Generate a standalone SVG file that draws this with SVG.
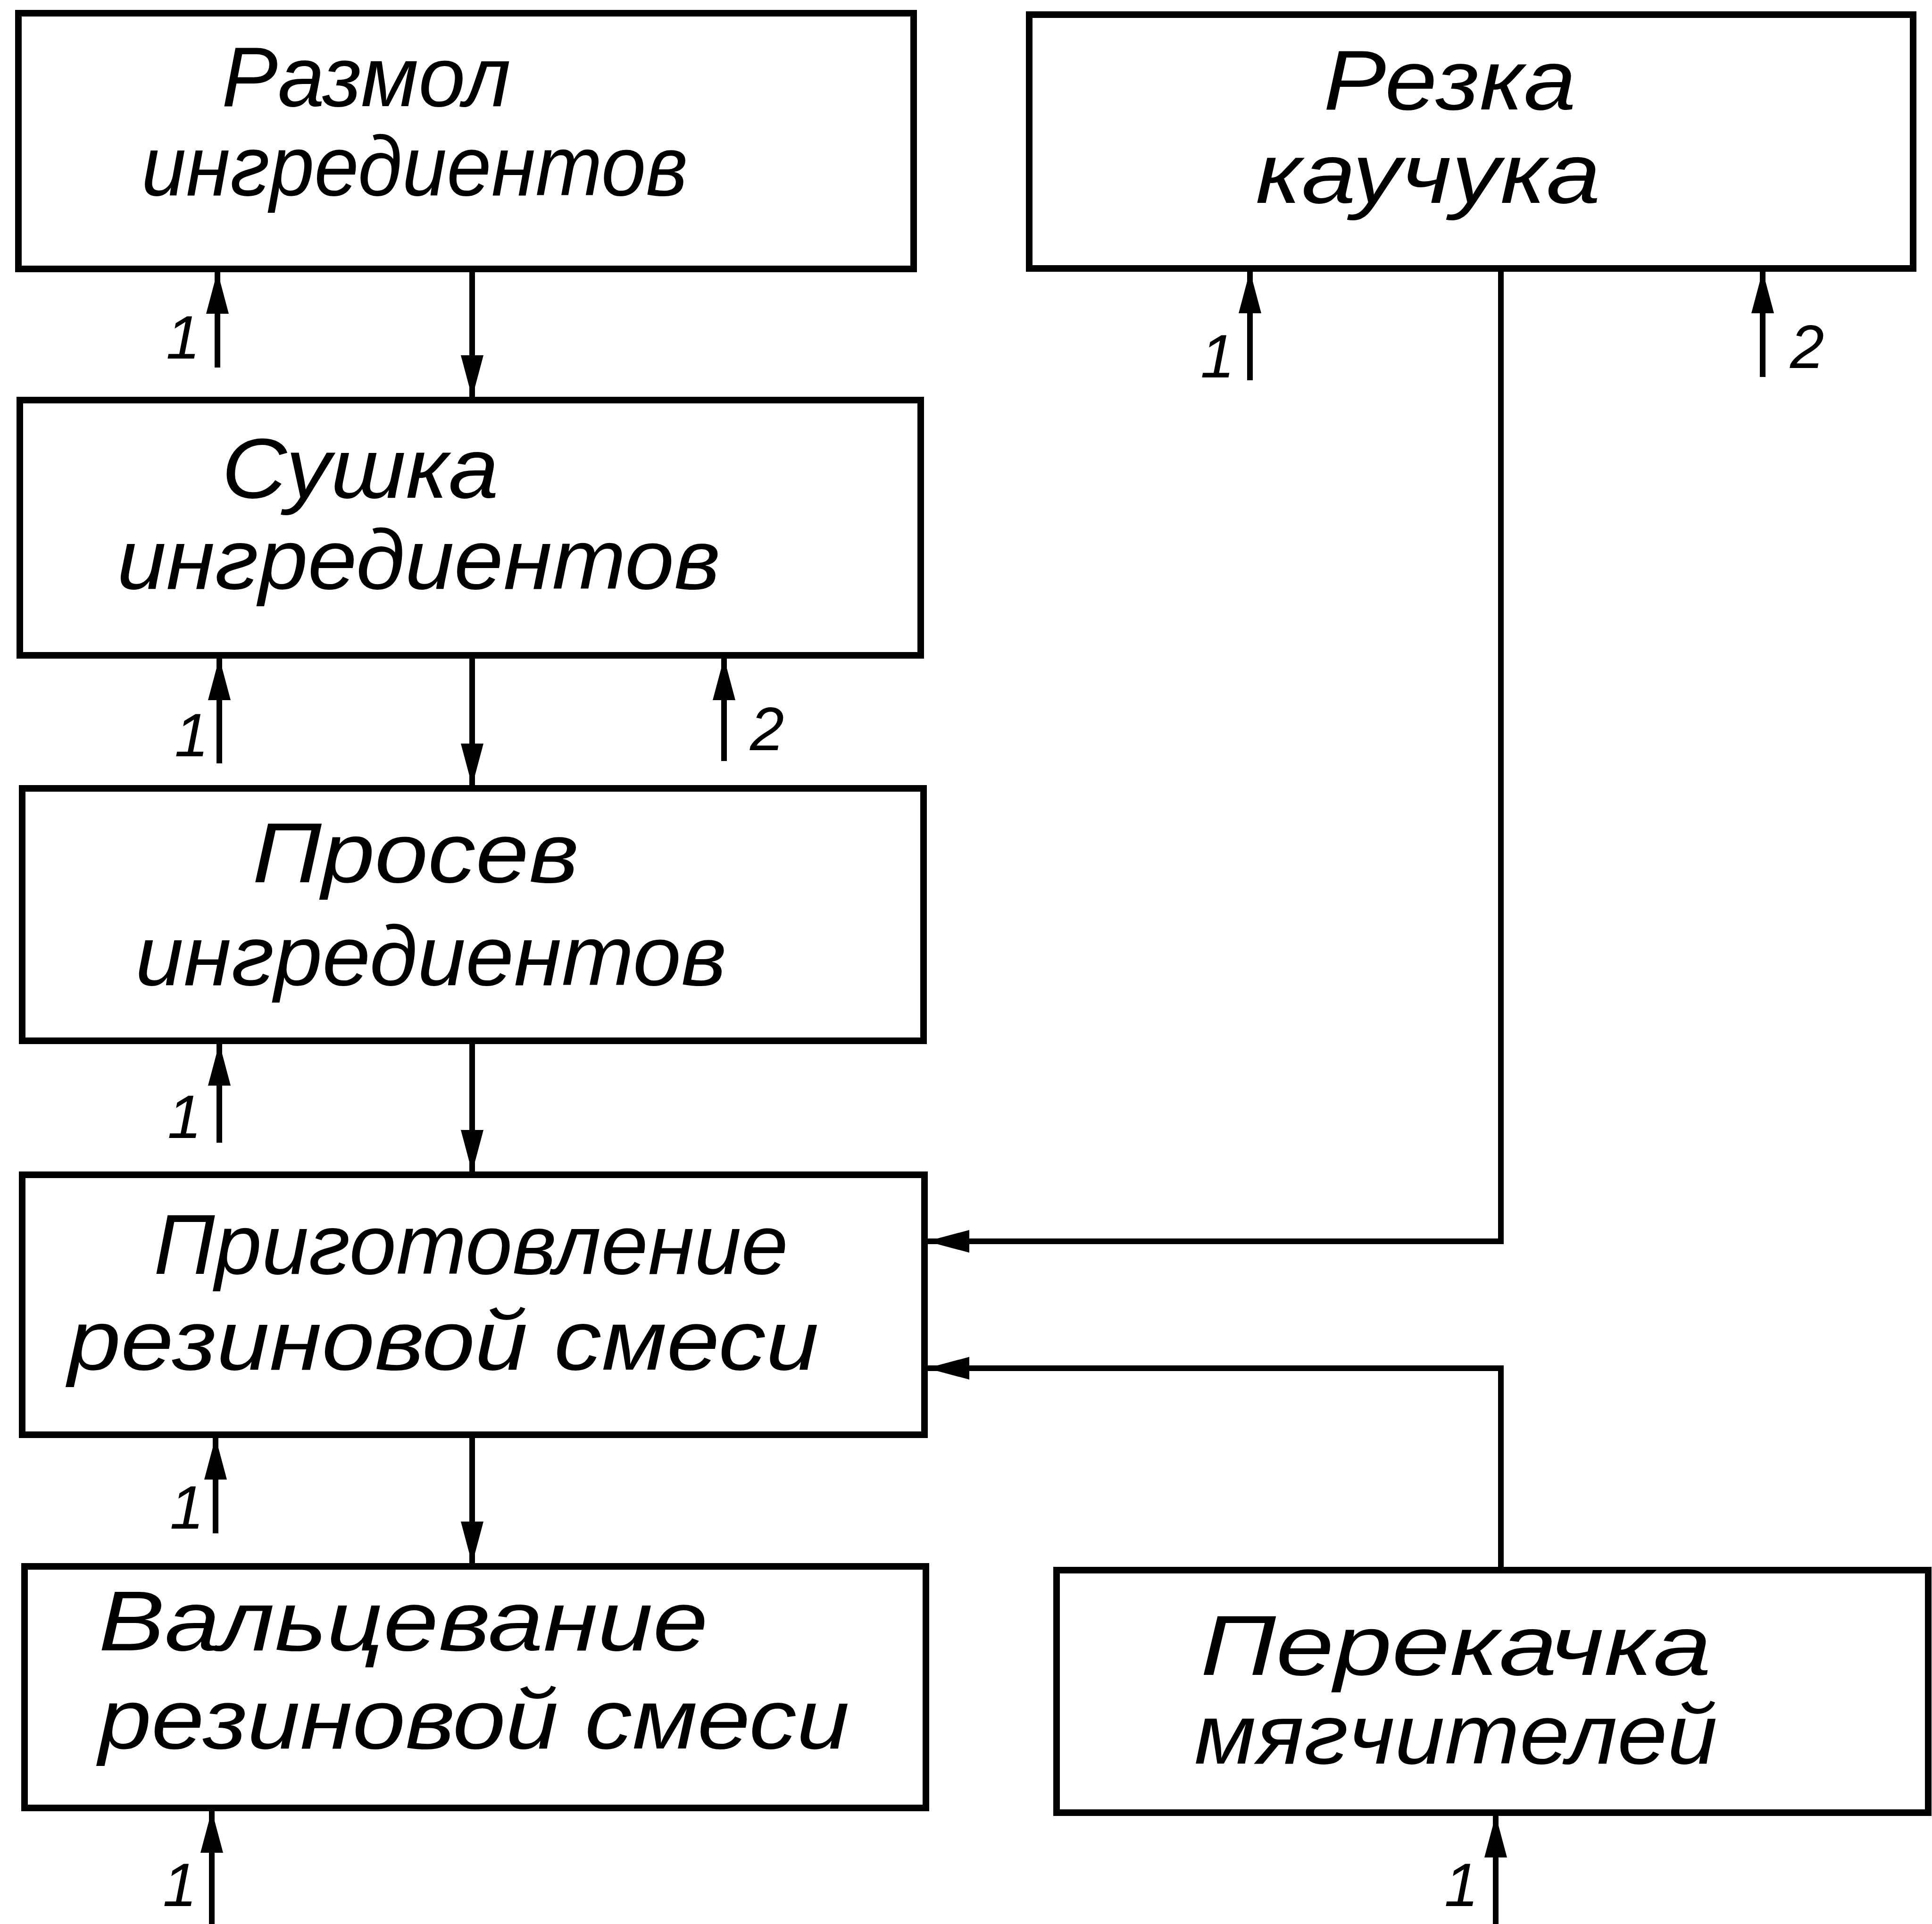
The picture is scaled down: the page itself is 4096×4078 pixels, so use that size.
<svg xmlns="http://www.w3.org/2000/svg" width="4096" height="4078" viewBox="0 0 4096 4078">
<style>
.box{fill:#fff;stroke:#000;stroke-width:14}
.t{font-family:"Liberation Sans","DejaVu Sans",sans-serif;font-style:italic;font-size:180px;fill:#000}
.n{font-family:"Liberation Sans","DejaVu Sans",sans-serif;font-style:italic;font-size:130px;fill:#000}
.c{fill:none;stroke:#000;stroke-width:12}
</style>
<defs>
<marker id="ah" markerUnits="userSpaceOnUse" viewBox="0 0 90 48" refX="88" refY="24" markerWidth="90" markerHeight="48" orient="auto">
<path d="M0,0 L90,24 L0,48 z" fill="#000"/>
</marker>
</defs>
<rect width="4096" height="4078" fill="#fff"/>
<g id="n1"><rect class="box" x="39" y="28" width="1898" height="542"/>
<text class="t" x="470" y="225" textLength="613" lengthAdjust="spacingAndGlyphs">Размол</text>
<text class="t" x="300" y="414" textLength="1158" lengthAdjust="spacingAndGlyphs">ингредиентов</text></g>
<g id="n2"><rect class="box" x="2182" y="31" width="1874" height="538"/>
<text class="t" x="2806" y="232" textLength="535" lengthAdjust="spacingAndGlyphs">Резка</text>
<text class="t" x="2662" y="430" textLength="731" lengthAdjust="spacingAndGlyphs">каучука</text></g>
<g id="n3"><rect class="box" x="42" y="848" width="1910" height="541"/>
<text class="t" x="470" y="1055" textLength="587" lengthAdjust="spacingAndGlyphs">Сушка</text>
<text class="t" x="248" y="1248" textLength="1279" lengthAdjust="spacingAndGlyphs">ингредиентов</text></g>
<g id="n4"><rect class="box" x="47" y="1671" width="1911" height="535"/>
<text class="t" x="535" y="1870" textLength="692" lengthAdjust="spacingAndGlyphs">Просев</text>
<text class="t" x="287" y="2088" textLength="1253" lengthAdjust="spacingAndGlyphs">ингредиентов</text></g>
<g id="n5"><rect class="box" x="47" y="2490" width="1913" height="551"/>
<text class="t" x="326" y="2700" textLength="1345" lengthAdjust="spacingAndGlyphs">Приготовление</text>
<text class="t" x="144" y="2903" textLength="1592" lengthAdjust="spacingAndGlyphs">резиновой  смеси</text></g>
<g id="n6"><rect class="box" x="52" y="3320" width="1911" height="512"/>
<text class="t" x="209" y="3498" textLength="1292" lengthAdjust="spacingAndGlyphs">Вальцевание</text>
<text class="t" x="209" y="3706" textLength="1592" lengthAdjust="spacingAndGlyphs">резиновой  смеси</text></g>
<g id="n7"><rect class="box" x="2240" y="3328" width="1848" height="514"/>
<text class="t" x="2545" y="3550" textLength="1083" lengthAdjust="spacingAndGlyphs">Перекачка</text>
<text class="t" x="2532" y="3738" textLength="1109" lengthAdjust="spacingAndGlyphs">мягчителей</text></g>
<g id="connectors">
<line class="c" x1="461" y1="779" x2="461" y2="577" marker-end="url(#ah)"/>
<line class="c" x1="1001" y1="570" x2="1001" y2="841" marker-end="url(#ah)"/>
<line class="c" x1="2650" y1="806" x2="2650" y2="576" marker-end="url(#ah)"/>
<line class="c" x1="3737" y1="799" x2="3737" y2="576" marker-end="url(#ah)"/>
<polyline class="c" points="3182,569 3182,2631 1967,2631" marker-end="url(#ah)"/>
<line class="c" x1="465" y1="1618" x2="465" y2="1396" marker-end="url(#ah)"/>
<line class="c" x1="1001" y1="1389" x2="1001" y2="1664" marker-end="url(#ah)"/>
<line class="c" x1="1535" y1="1613" x2="1535" y2="1396" marker-end="url(#ah)"/>
<line class="c" x1="465" y1="2422" x2="465" y2="2213" marker-end="url(#ah)"/>
<line class="c" x1="1001" y1="2206" x2="1001" y2="2483" marker-end="url(#ah)"/>
<line class="c" x1="457" y1="3250" x2="457" y2="3048" marker-end="url(#ah)"/>
<line class="c" x1="1001" y1="3041" x2="1001" y2="3313" marker-end="url(#ah)"/>
<polyline class="c" points="3182,3328 3182,2900 1967,2900" marker-end="url(#ah)"/>
<line class="c" x1="449" y1="4078" x2="449" y2="3839" marker-end="url(#ah)"/>
<line class="c" x1="3171" y1="4078" x2="3171" y2="3849" marker-end="url(#ah)"/>
</g>
<g id="labels">
<text class="n" x="352" y="760">1</text>
<text class="n" x="2545" y="800">1</text>
<text class="n" x="3795" y="780">2</text>
<text class="n" x="370" y="1603">1</text>
<text class="n" x="1590" y="1590">2</text>
<text class="n" x="355" y="2412">1</text>
<text class="n" x="360" y="3240">1</text>
<text class="n" x="345" y="4040">1</text>
<text class="n" x="3062" y="4040">1</text>
</g>
</svg>
